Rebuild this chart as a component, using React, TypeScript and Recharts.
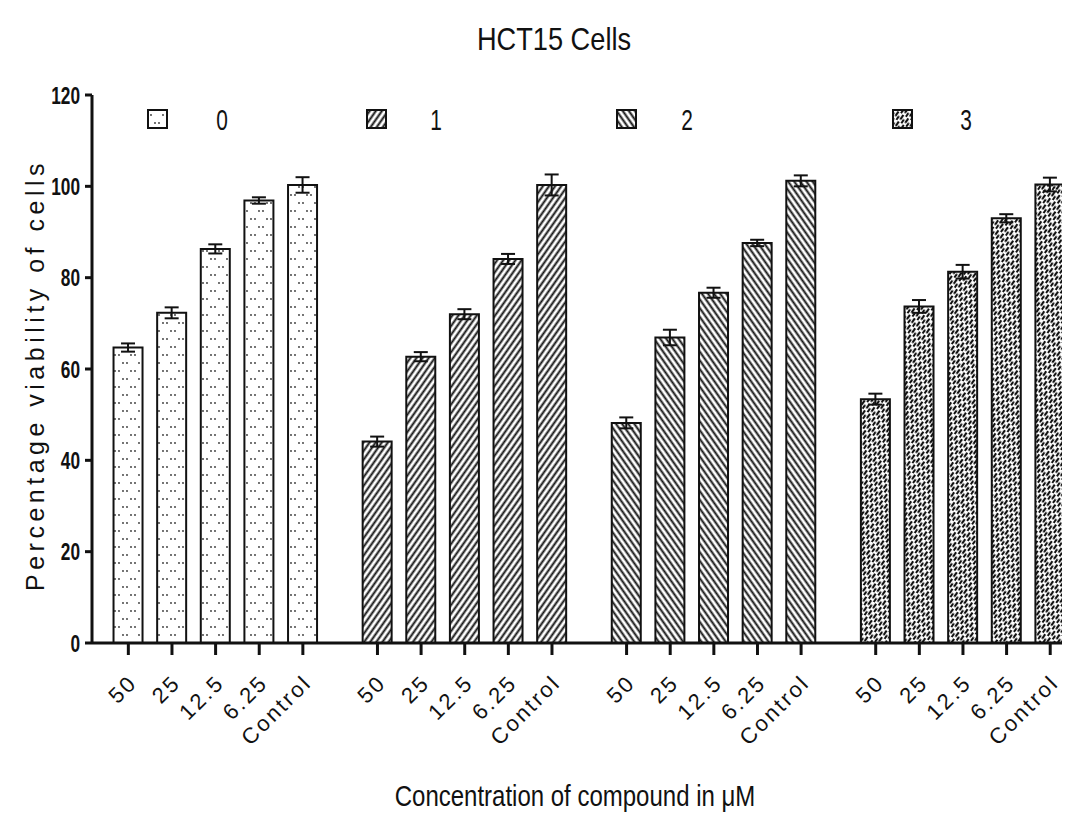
import { Bar, BarChart, Cell, ErrorBar, XAxis, YAxis } from "recharts";

const CONCENTRATIONS = ["50", "25", "12.5", "6.25", "Control"];
const COMPOUNDS = ["0", "1", "2", "3"];

const VIABILITY_0 = [64.7, 72.3, 86.3, 96.9, 100.3];
const VIABILITY_1 = [44.1, 62.7, 72.0, 84.1, 100.3];
const VIABILITY_2 = [48.2, 66.9, 76.7, 87.6, 101.2];
const VIABILITY_3 = [53.4, 73.7, 81.3, 93.0, 100.4];

const SEM_0 = [0.9, 1.2, 1.0, 0.7, 1.7];
const SEM_1 = [1.1, 1.0, 1.1, 1.1, 2.3];
const SEM_2 = [1.2, 1.7, 1.1, 0.7, 1.2];
const SEM_3 = [1.2, 1.4, 1.5, 0.9, 1.5];

const Y_TICKS = [0, 20, 40, 60, 80, 100, 120];

const VIABILITY = [VIABILITY_0, VIABILITY_1, VIABILITY_2, VIABILITY_3];
const SEM = [SEM_0, SEM_1, SEM_2, SEM_3];

// groups are spaced a bit wider than one bar slot
const GROUP_STEP = 5.71;

const data = COMPOUNDS.flatMap((_, g) =>
  CONCENTRATIONS.map((conc, i) => ({
    pos: g * GROUP_STEP + i,
    conc,
    group: g,
    value: VIABILITY[g][i],
    err: SEM[g][i],
  }))
);
const xTicks = data.map((d) => d.pos);
const labelAt = (p: number) => data.find((d) => Math.abs(d.pos - p) < 1e-6)?.conc ?? "";

const FONT = '"Liberation Sans", Arial, sans-serif';
const INK = "#111";

function XTick({ x, y, payload }: any) {
  return (
    <g transform={`translate(${x + 10},${y + 27})`}>
      <text textAnchor="end" transform="rotate(-45)" fontSize={22} letterSpacing={2.5} fontFamily={FONT} fill={INK}>
        {labelAt(payload.value)}
      </text>
    </g>
  );
}

function YTick({ x, y, payload }: any) {
  return (
    <text
      transform={`translate(${x - 3},${y + 8.5}) scale(0.72,1)`}
      textAnchor="end"
      fontSize={24}
      fontWeight={700}
      fontFamily={FONT}
      fill={INK}
    >
      {payload.value}
    </text>
  );
}

function Patterns() {
  return (
    <defs>
      <pattern id="pat0" width="16" height="16" patternUnits="userSpaceOnUse">
        <rect width="16" height="16" fill="#fff" />
        <circle cx="3" cy="3" r="0.9" fill="#333" />
        <circle cx="7" cy="3" r="0.9" fill="#333" />
        <circle cx="11" cy="11" r="0.9" fill="#333" />
        <circle cx="15" cy="11" r="0.9" fill="#333" />
      </pattern>
      <pattern id="pat1" width="5" height="8" patternUnits="userSpaceOnUse" patternTransform="rotate(35)">
        <rect width="5" height="8" fill="#fff" />
        <line x1="1.5" y1="0" x2="1.5" y2="8" stroke={INK} strokeWidth="2" />
      </pattern>
      <pattern id="pat2" width="5" height="8" patternUnits="userSpaceOnUse" patternTransform="rotate(-35)">
        <rect width="5" height="8" fill="#fff" />
        <line x1="1.5" y1="0" x2="1.5" y2="8" stroke={INK} strokeWidth="2" />
      </pattern>
      <pattern id="pat3" width="6" height="8" patternUnits="userSpaceOnUse" patternTransform="rotate(35)">
        <rect width="6" height="8" fill="#fff" />
        <line x1="2" y1="0" x2="2" y2="5.5" stroke={INK} strokeWidth="2.2" />
        <line x1="5" y1="3.5" x2="5" y2="8" stroke={INK} strokeWidth="2" />
      </pattern>
    </defs>
  );
}

function Overlay() {
  const swatchX = [148, 367, 617, 893];
  const labelX = [222, 436, 687, 966];
  return (
    <svg width={1083} height={815} style={{ position: "absolute", left: 0, top: 0, pointerEvents: "none" }}>
      <text transform="translate(554,50) scale(0.85,1)" textAnchor="middle" fontSize={32} fontFamily={FONT} fill={INK}>
        HCT15 Cells
      </text>
      {COMPOUNDS.map((c, g) => (
        <g key={c}>
          <rect x={swatchX[g]} y={110} width={19} height={18} fill={`url(#pat${g})`} stroke={INK} strokeWidth={2} />
          <text
            transform={`translate(${labelX[g]},130) scale(0.72,1)`}
            textAnchor="middle"
            fontSize={29}
            fontFamily={FONT}
            fill={INK}
          >
            {c}
          </text>
        </g>
      ))}
      <text transform="translate(575,806) scale(0.8,1)" textAnchor="middle" fontSize={30} fontFamily={FONT} fill={INK}>
        Concentration of compound in μM
      </text>
      <text
        transform="translate(44,375) rotate(-90)"
        textAnchor="middle"
        fontSize={25}
        letterSpacing={4.5}
        fontFamily={FONT}
        fill={INK}
      >
        Percentage viability of cells
      </text>
    </svg>
  );
}

export default function App() {
  return (
    <div style={{ position: "absolute", left: 0, top: 0, width: 1083, height: 815, background: "#fff" }}>
      <BarChart width={1083} height={815} data={data} margin={{ top: 95, right: 21, bottom: 0, left: 0 }}>
        <Patterns />
        <XAxis
          dataKey="pos"
          type="number"
          domain={[-0.833, 21.4]}
          ticks={xTicks}
          interval={0}
          height={172}
          stroke={INK}
          strokeWidth={3}
          tickSize={12}
          tick={<XTick />}
          allowDataOverflow
        />
        <YAxis
          type="number"
          domain={[0, 120]}
          ticks={Y_TICKS}
          width={92}
          stroke={INK}
          strokeWidth={3}
          tickSize={7}
          tick={<YTick />}
        />
        <Bar dataKey="value" barSize={29} stroke={INK} strokeWidth={2} isAnimationActive={false}>
          {data.map((d) => (
            <Cell key={d.pos} fill={`url(#pat${d.group})`} />
          ))}
          <ErrorBar dataKey="err" width={7} stroke={INK} strokeWidth={2} />
        </Bar>
      </BarChart>
      <Overlay />
    </div>
  );
}
